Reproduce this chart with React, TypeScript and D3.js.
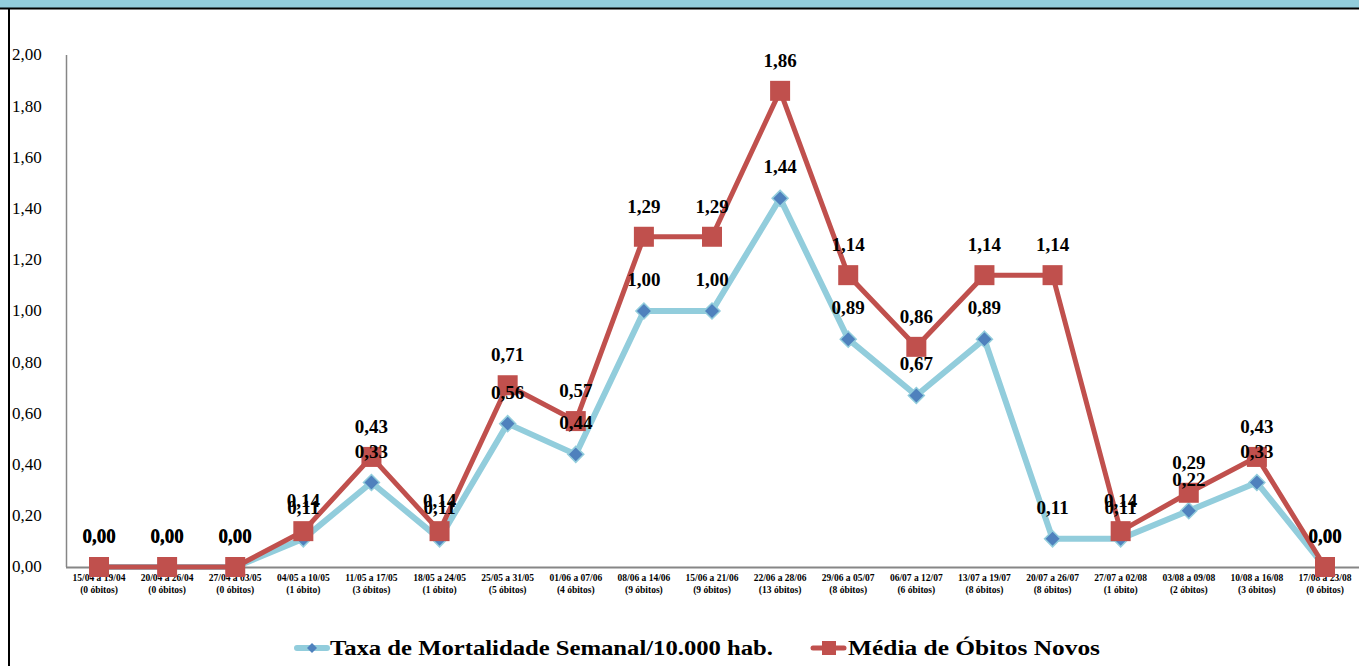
import * as d3 from 'd3';

// Weekly periods and number of deaths (x-axis categories)
const periods = [
  '15/04 a 19/04', '20/04 a 26/04', '27/04 a 03/05', '04/05 a 10/05', '11/05 a 17/05',
  '18/05 a 24/05', '25/05 a 31/05', '01/06 a 07/06', '08/06 a 14/06', '15/06 a 21/06',
  '22/06 a 28/06', '29/06 a 05/07', '06/07 a 12/07', '13/07 a 19/07', '20/07 a 26/07',
  '27/07 a 02/08', '03/08 a 09/08', '10/08 a 16/08', '17/08 a 23/08',
];
const deaths = [
  '(0 óbitos)', '(0 óbitos)', '(0 óbitos)', '(1 óbito)', '(3 óbitos)',
  '(1 óbito)', '(5 óbitos)', '(4 óbitos)', '(9 óbitos)', '(9 óbitos)',
  '(13 óbitos)', '(8 óbitos)', '(6 óbitos)', '(8 óbitos)', '(8 óbitos)',
  '(1 óbito)', '(2 óbitos)', '(3 óbitos)', '(0 óbitos)',
];

// Series values
const taxa = [0, 0, 0, 0.11, 0.33, 0.11, 0.56, 0.44, 1.0, 1.0, 1.44, 0.89, 0.67, 0.89, 0.11, 0.11, 0.22, 0.33, 0];
const media = [0, 0, 0, 0.14, 0.43, 0.14, 0.71, 0.57, 1.29, 1.29, 1.86, 1.14, 0.86, 1.14, 1.14, 0.14, 0.29, 0.43, 0];

const yTicks = [0, 0.2, 0.4, 0.6, 0.8, 1.0, 1.2, 1.4, 1.6, 1.8, 2.0];

const WIDTH = 1359;
const HEIGHT = 666;
const FONT = '"Liberation Serif", "DejaVu Serif", serif';
const BLUE_LINE = '#92CDDC';
const BLUE_MARK = '#4F81BD';
const RED = '#C0504D';

const fmt = (v: number) => d3.format('.2f')(v).replace('.', ',');

const App = () => {
  const x = d3.scalePoint<string>().domain(periods).range([99, 1325]);
  const y = d3.scaleLinear().domain([0, 2]).range([567, 55]);

  const line = d3
    .line<number>()
    .x((_, i) => x(periods[i]) as number)
    .y((d) => y(d));

  const diamond = (cx: number, cy: number, r: number) =>
    `M${cx},${cy - r}L${cx + r},${cy}L${cx},${cy + r}L${cx - r},${cy}Z`;

  return (
    <svg
      width={WIDTH}
      height={HEIGHT}
      style={{ position: 'absolute', left: 0, top: 0, background: '#fff' }}
      fontFamily={FONT}
    >
      {/* frame */}
      <rect x={0} y={0} width={WIDTH} height={8} fill={BLUE_LINE} />
      <line x1={0} x2={WIDTH} y1={8.5} y2={8.5} stroke="#000" strokeWidth={2} />
      <line x1={9} x2={9} y1={8} y2={HEIGHT} stroke="#000" strokeWidth={2} />

      {/* axes */}
      <line x1={66.5} x2={66.5} y1={y(2)} y2={y(0)} stroke="#868686" strokeWidth={1.5} />
      <line x1={66} x2={WIDTH} y1={y(0) + 0.5} y2={y(0) + 0.5} stroke="#868686" strokeWidth={2} />

      {yTicks.map((t) => (
        <text key={t} x={12} y={y(t)} dy="0.32em" fontSize={17} fill="#000">
          {fmt(t)}
        </text>
      ))}

      {periods.map((p, i) => (
        <g key={p} transform={`translate(${x(p)},0)`}>
          <text y={581} textAnchor="middle" fontSize={9.5} fontWeight="bold" fill="#000">
            {p}
          </text>
          <text y={593} textAnchor="middle" fontSize={9.5} fontWeight="bold" fill="#000">
            {deaths[i]}
          </text>
        </g>
      ))}

      {/* Taxa de Mortalidade */}
      <path d={line(taxa) ?? ''} fill="none" stroke={BLUE_LINE} strokeWidth={6} strokeLinejoin="round" />
      {taxa.map((v, i) => (
        <path
          key={i}
          d={diamond(x(periods[i]) as number, y(v), 8)}
          fill={BLUE_MARK}
          stroke={BLUE_LINE}
          strokeWidth={1.5}
        />
      ))}

      {/* Média de Óbitos Novos */}
      <path d={line(media) ?? ''} fill="none" stroke={RED} strokeWidth={5} strokeLinejoin="round" />
      {media.map((v, i) => (
        <rect
          key={i}
          x={(x(periods[i]) as number) - 10}
          y={y(v) - 10}
          width={20}
          height={20}
          fill={RED}
        />
      ))}

      {/* data labels */}
      {taxa.map((v, i) => (
        <text
          key={`t${i}`}
          x={x(periods[i])}
          y={y(v) - 25}
          textAnchor="middle"
          fontSize={19}
          fontWeight="bold"
          fill="#000"
        >
          {fmt(v)}
        </text>
      ))}
      {media.map((v, i) => (
        <text
          key={`m${i}`}
          x={x(periods[i])}
          y={y(v) - 24}
          textAnchor="middle"
          fontSize={19}
          fontWeight="bold"
          fill="#000"
        >
          {fmt(v)}
        </text>
      ))}

      {/* legend */}
      <line x1={297} x2={327} y1={648} y2={648} stroke={BLUE_LINE} strokeWidth={6} strokeLinecap="round" />
      <path d={diamond(312, 648, 5)} fill={BLUE_MARK} />
      <text
        x={330}
        y={655}
        fontSize={20}
        fontWeight="bold"
        fill="#000"
        textLength={443}
        lengthAdjust="spacingAndGlyphs"
      >
        Taxa de Mortalidade Semanal/10.000 hab.
      </text>
      <line x1={813} x2={844} y1={648} y2={648} stroke={RED} strokeWidth={5} strokeLinecap="round" />
      <rect x={822} y={641} width={14} height={14} fill={RED} />
      <text
        x={848}
        y={655}
        fontSize={20}
        fontWeight="bold"
        fill="#000"
        textLength={252}
        lengthAdjust="spacingAndGlyphs"
      >
        Média de Óbitos Novos
      </text>
    </svg>
  );
};

export default App;
